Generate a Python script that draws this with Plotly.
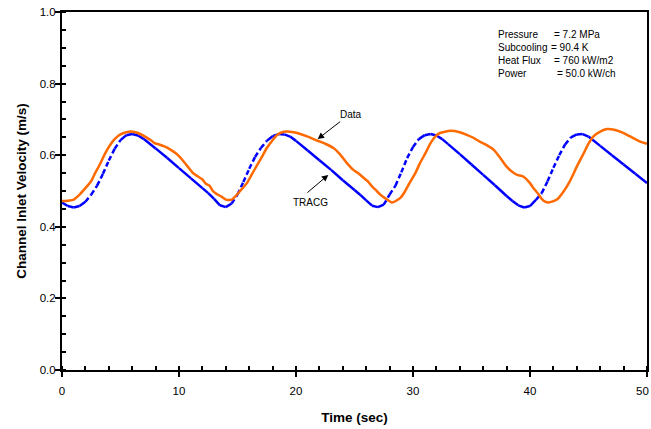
import plotly.graph_objects as go

# ---- data ----
tracg_t = [0, 0.5, 1.0, 1.5, 2.0, 2.5, 3.0, 3.5, 4.0, 4.5, 5.0, 5.5, 6.0, 6.5, 7, 8, 9, 10, 11, 12,
           12.5, 13, 13.5, 14, 14.5, 15, 15.5, 16, 16.5, 17, 17.5, 18, 18.5, 19, 19.5, 20, 21, 22, 23,
           24, 25, 25.5, 26, 26.5, 27, 27.5, 28, 28.5, 29, 29.5, 30, 30.5, 31, 31.5, 32, 32.5, 33, 34,
           35, 36, 37, 38, 38.5, 39, 39.5, 40, 40.5, 41, 41.5, 42, 42.5, 43, 43.5, 44, 44.5, 45, 46,
           47, 48, 49, 50]
tracg_v = [0.468, 0.458, 0.454, 0.458, 0.470, 0.490, 0.515, 0.548, 0.585, 0.618, 0.642, 0.656, 0.659,
           0.655, 0.645, 0.619, 0.592, 0.564, 0.536, 0.508,
           0.494, 0.478, 0.460, 0.455, 0.465, 0.490, 0.525, 0.562, 0.595, 0.620, 0.640, 0.653, 0.659,
           0.658, 0.652, 0.640, 0.613, 0.586, 0.559,
           0.530, 0.503, 0.489, 0.474, 0.459, 0.455, 0.462, 0.490, 0.515, 0.552, 0.592, 0.623, 0.645,
           0.656, 0.659, 0.655, 0.645, 0.631, 0.603,
           0.574, 0.545, 0.516, 0.486, 0.472, 0.460, 0.454, 0.458, 0.475, 0.494, 0.527, 0.565, 0.600,
           0.630, 0.650, 0.658, 0.659, 0.652, 0.626,
           0.600, 0.574, 0.548, 0.522]

data_t = [0, 0.5, 1.0, 1.5, 2.0, 2.5, 2.8, 3.2, 3.7, 4.1, 4.5, 5.0, 5.5, 5.9, 6.5, 7.1, 7.6, 7.9, 8.3,
          8.8, 9.3, 9.7, 10.1, 10.5, 11.0, 11.2, 11.6, 12.0, 12.3, 12.6, 12.9, 13.2, 13.6, 14.0, 14.5,
          14.9, 15.3, 15.8, 16.2, 16.6, 17.1, 17.5, 18.0, 18.4, 18.8, 19.2, 19.8, 20.3, 21.0, 21.8,
          22.5, 23.2, 23.8, 24.3, 24.9, 25.3, 25.7, 26.1, 26.5, 26.9, 27.2, 27.7, 28.2, 28.9, 29.3,
          29.7, 30.2, 30.6, 31.1, 31.5, 31.9, 32.3, 33.2, 34.0, 34.6, 35.2, 35.7, 36.3, 36.9, 37.4,
          38.0, 38.5, 38.9, 39.3, 39.6, 40.0, 40.3, 40.7, 41.0, 41.3, 41.6, 42.3, 42.9, 43.4, 44.0,
          44.6, 45.0, 45.4, 46.0, 46.6, 47.2, 47.7, 48.3, 48.8, 49.4, 50.0]
data_v = [0.472, 0.473, 0.476, 0.490, 0.508, 0.528, 0.548, 0.572, 0.606, 0.628, 0.645, 0.658, 0.664,
          0.666, 0.662, 0.652, 0.642, 0.634, 0.630,
          0.624, 0.615, 0.606, 0.594, 0.578, 0.558, 0.550, 0.541, 0.532, 0.520, 0.515, 0.500, 0.492,
          0.485, 0.476, 0.476,
          0.488, 0.503, 0.522, 0.545, 0.568, 0.596, 0.620, 0.642, 0.657, 0.664, 0.666, 0.664, 0.660,
          0.652, 0.641,
          0.632, 0.620, 0.601, 0.580, 0.559, 0.550, 0.539, 0.528, 0.513, 0.500, 0.490, 0.478, 0.468,
          0.480, 0.498,
          0.522, 0.550, 0.578, 0.608, 0.634, 0.652, 0.662, 0.668, 0.664, 0.657, 0.648, 0.638, 0.628,
          0.615, 0.595,
          0.568, 0.553, 0.545, 0.542, 0.536, 0.522, 0.508, 0.492, 0.478, 0.470, 0.468, 0.476, 0.500,
          0.527, 0.568,
          0.606, 0.632, 0.652, 0.666, 0.673, 0.671, 0.666, 0.657, 0.648, 0.638, 0.632]

x_ticks = [0, 10, 20, 30, 40, 50]
y_ticks = [0.0, 0.2, 0.4, 0.6, 0.8, 1.0]

info_labels = ["Pressure", "Subcooling", "Heat Flux", "Power"]
info_values = ["= 7.2 MPa", "= 90.4 K", "= 760 kW/m2", "= 50.0 kW/ch"]

FONT = "Liberation Sans, Arial, sans-serif"
BLUE = "#0000FF"
ORANGE = "#FF6A00"

# split TRACG into steep-rising (drawn dashed, as in the sparse-marker look) and other segments
solid_x, solid_y, dash_x, dash_y = [], [], [], []
for i in range(len(tracg_t) - 1):
    t0, t1 = tracg_t[i], tracg_t[i + 1]
    v0, v1 = tracg_v[i], tracg_v[i + 1]
    slope = (v1 - v0) / (t1 - t0)
    if slope > 0.035:
        dash_x += [t0, t1, None]
        dash_y += [v0, v1, None]
    else:
        solid_x += [t0, t1, None]
        solid_y += [v0, v1, None]

fig = go.Figure()
fig.add_trace(go.Scatter(x=solid_x, y=solid_y, mode="lines", name="TRACG",
                         line=dict(color=BLUE, width=2.5), showlegend=False))
fig.add_trace(go.Scatter(x=dash_x, y=dash_y, mode="lines", name="TRACG",
                         line=dict(color=BLUE, width=2.5, dash="5px,3px"), showlegend=False))
fig.add_trace(go.Scatter(x=data_t, y=data_v, mode="lines", name="Data",
                         line=dict(color=ORANGE, width=2.5, shape="spline", smoothing=0.6),
                         showlegend=False))

# arrows + labels
fig.add_annotation(x=21.85, y=0.645, ax=23.9, ay=0.697, xref="x", yref="y", axref="x", ayref="y",
                   text="", showarrow=True, arrowhead=2, arrowsize=1.3, arrowwidth=1, arrowcolor="black")
fig.add_annotation(x=24.7, y=0.715, xref="x", yref="y", text="Data", showarrow=False,
                   font=dict(family=FONT, size=10, color="black"))
fig.add_annotation(x=22.76, y=0.545, ax=20.85, ay=0.492, xref="x", yref="y", axref="x", ayref="y",
                   text="", showarrow=True, arrowhead=2, arrowsize=1.3, arrowwidth=1, arrowcolor="black")
fig.add_annotation(x=21.2, y=0.467, xref="x", yref="y", text="TRACG", showarrow=False,
                   font=dict(family=FONT, size=10, color="black"))

# info block
label_y = [0.936, 0.901, 0.864, 0.829]
value_x = [41.85, 41.6, 41.85, 42.14]
for lab, val, yy, vx in zip(info_labels, info_values, label_y, value_x):
    fig.add_annotation(x=37.09, y=yy, xref="x", yref="y", text=lab, showarrow=False,
                       xanchor="left", yanchor="middle", font=dict(family=FONT, size=10, color="black"))
    fig.add_annotation(x=vx, y=yy, xref="x", yref="y", text=val, showarrow=False,
                       xanchor="left", yanchor="middle", font=dict(family=FONT, size=10, color="black"))

# last x tick label sits at the right page edge: right-align it so it stays visible
x_ticktext = [str(v) for v in x_ticks[:-1]] + [""]
fig.add_annotation(x=1.0, xref="paper", y=0, yref="y", yshift=-21, xshift=4, text=str(x_ticks[-1]),
                   showarrow=False, xanchor="right", yanchor="middle",
                   font=dict(family=FONT, size=11.5, color="black"))

fig.update_layout(
    width=651, height=429,
    margin=dict(l=62, r=4, t=12, b=58.5, autoexpand=False),
    paper_bgcolor="white", plot_bgcolor="white",
    font=dict(family=FONT, color="black"),
)
fig.update_xaxes(
    range=[0, 50], tickvals=x_ticks, ticktext=x_ticktext, automargin=False,
    ticklabeloverflow="allow", ticklabelstandoff=4,
    showgrid=False, zeroline=False, showline=True, linecolor="black", linewidth=2, mirror=True,
    ticks="outside", ticklen=5, tickwidth=2, tickcolor="black",
    minor=dict(dtick=2, ticks="inside", ticklen=4, tickwidth=1.5, tickcolor="black", showgrid=False),
    tickfont=dict(family=FONT, size=11.5, color="black"),
    title=dict(text="<b>Time (sec)</b>", font=dict(family=FONT, size=13.5, color="black"), standoff=17),
)
fig.update_yaxes(
    range=[0, 1.0], tickvals=y_ticks, ticktext=[f"{v:.1f}" for v in y_ticks], automargin=False,
    ticklabelstandoff=-3, ticklabeloverflow="allow",
    showgrid=False, zeroline=False, showline=True, linecolor="black", linewidth=2, mirror=True,
    ticks="outside", ticklen=5, tickwidth=2, tickcolor="black",
    minor=dict(dtick=0.05, ticks="inside", ticklen=4, tickwidth=1.5, tickcolor="black", showgrid=False),
    tickfont=dict(family=FONT, size=11.5, color="black"),
    title=dict(text="<b>Channel Inlet Velocity (m/s)</b>", font=dict(family=FONT, size=13.5, color="black"),
               standoff=10),
)

# remove the default 8px page margin so the figure fills the window exactly; hide the modebar
fig.write_html("out.html", config={"displayModeBar": False},
               post_script="document.body.style.margin='0';")
